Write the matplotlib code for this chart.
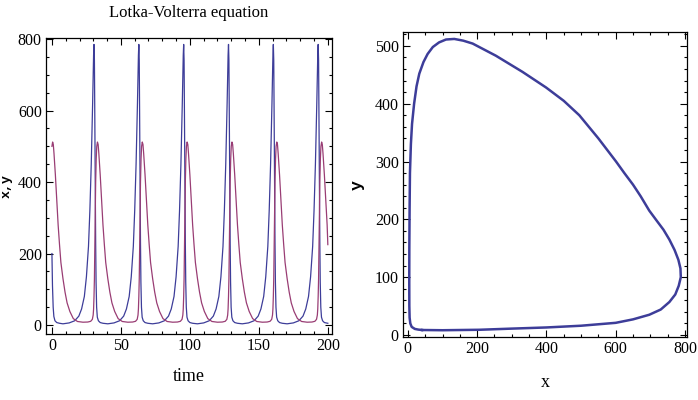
import numpy as np
import matplotlib
matplotlib.use("Agg")
import matplotlib.pyplot as plt
from matplotlib.ticker import MultipleLocator

# x(t): prey, blue curve of the left panel (one line per cycle)
t_x = [0.0, 0.4, 0.9, 1.4, 2.2, 3.5, 5.5,
       8.0, 12.5, 16.5, 19.5, 21.5, 23.5, 25.0, 26.5, 27.5, 28.5, 29.5, 30.2, 30.5, 30.8, 31.1, 31.4, 31.7, 32.0, 32.4, 32.9, 33.7, 35.0, 37.0,
       40.5, 45.0, 49.0, 52.0, 54.0, 56.0, 57.5, 59.0, 60.0, 61.0, 62.0, 62.7, 63.0, 63.3, 63.6, 63.9, 64.2, 64.5, 64.9, 65.4, 66.2, 67.5, 69.5,
       73.0, 77.5, 81.5, 84.5, 86.5, 88.5, 90.0, 91.5, 92.5, 93.5, 94.5, 95.2, 95.5, 95.8, 96.1, 96.4, 96.7, 97.0, 97.4, 97.9, 98.7, 100.0, 102.0,
       105.5, 110.0, 114.0, 117.0, 119.0, 121.0, 122.5, 124.0, 125.0, 126.0, 127.0, 127.7, 128.0, 128.3, 128.6, 128.9, 129.2, 129.5, 129.9, 130.4, 131.2, 132.5, 134.5,
       138.0, 142.5, 146.5, 149.5, 151.5, 153.5, 155.0, 156.5, 157.5, 158.5, 159.5, 160.2, 160.5, 160.8, 161.1, 161.4, 161.7, 162.0, 162.4, 162.9, 163.7, 165.0, 167.0,
       170.5, 175.0, 179.0, 182.0, 184.0, 186.0, 187.5, 189.0, 190.0, 191.0, 192.0, 192.7, 193.0, 193.3, 193.6, 193.9, 194.2, 194.5, 194.9, 195.4, 196.2, 197.5, 200.0]
x_vals = [200, 110, 50, 24, 12, 7, 5,
          3.5, 6, 12, 25, 45, 80, 135, 220, 320, 450, 620, 755, 785, 740, 560, 380, 230, 120, 50, 22, 12, 7, 5,
          3.5, 6, 12, 25, 45, 80, 135, 220, 320, 450, 620, 755, 785, 740, 560, 380, 230, 120, 50, 22, 12, 7, 5,
          3.5, 6, 12, 25, 45, 80, 135, 220, 320, 450, 620, 755, 785, 740, 560, 380, 230, 120, 50, 22, 12, 7, 5,
          3.5, 6, 12, 25, 45, 80, 135, 220, 320, 450, 620, 755, 785, 740, 560, 380, 230, 120, 50, 22, 12, 7, 5,
          3.5, 6, 12, 25, 45, 80, 135, 220, 320, 450, 620, 755, 785, 740, 560, 380, 230, 120, 50, 22, 12, 7, 5,
          3.5, 6, 12, 25, 45, 80, 135, 220, 320, 450, 620, 755, 785, 740, 560, 380, 230, 120, 50, 22, 12, 7, 5]

# y(t): predator, red curve of the left panel (one line per cycle)
t_y = [0.0, 0.5, 1.0, 1.5, 2.5, 3.5, 4.5, 5.5, 6.5,
       8.0, 9.5, 11.0, 13.0, 15.5, 18.5, 22.5, 26.0, 28.1, 29.3, 29.9, 30.2, 30.5, 30.8, 31.1, 31.4, 31.7, 32.1, 32.5, 33.0, 33.5, 34.0, 35.0, 36.0, 37.0, 38.0, 39.0,
       40.5, 42.0, 43.5, 45.5, 48.0, 51.0, 55.0, 58.5, 60.6, 61.8, 62.4, 62.7, 63.0, 63.3, 63.6, 63.9, 64.2, 64.6, 65.0, 65.5, 66.0, 66.5, 67.5, 68.5, 69.5, 70.5, 71.5,
       73.0, 74.5, 76.0, 78.0, 80.5, 83.5, 87.5, 91.0, 93.1, 94.3, 94.9, 95.2, 95.5, 95.8, 96.1, 96.4, 96.7, 97.1, 97.5, 98.0, 98.5, 99.0, 100.0, 101.0, 102.0, 103.0, 104.0,
       105.5, 107.0, 108.5, 110.5, 113.0, 116.0, 120.0, 123.5, 125.6, 126.8, 127.4, 127.7, 128.0, 128.3, 128.6, 128.9, 129.2, 129.6, 130.0, 130.5, 131.0, 131.5, 132.5, 133.5, 134.5, 135.5, 136.5,
       138.0, 139.5, 141.0, 143.0, 145.5, 148.5, 152.5, 156.0, 158.1, 159.3, 159.9, 160.2, 160.5, 160.8, 161.1, 161.4, 161.7, 162.1, 162.5, 163.0, 163.5, 164.0, 165.0, 166.0, 167.0, 168.0, 169.0,
       170.5, 172.0, 173.5, 175.5, 178.0, 181.0, 185.0, 188.5, 190.6, 191.8, 192.4, 192.7, 193.0, 193.3, 193.6, 193.9, 194.2, 194.6, 195.0, 195.5, 196.0, 196.5, 197.5, 198.5, 199.5, 200.0]
y_vals = [500, 512, 505, 480, 420, 350, 280, 225, 175,
          130, 92, 62, 38, 18, 10, 8, 8.5, 10.5, 16, 28, 45, 80, 130, 210, 310, 400, 465, 500, 512, 505, 480, 420, 350, 280, 225, 175,
          130, 92, 62, 38, 18, 10, 8, 8.5, 10.5, 16, 28, 45, 80, 130, 210, 310, 400, 465, 500, 512, 505, 480, 420, 350, 280, 225, 175,
          130, 92, 62, 38, 18, 10, 8, 8.5, 10.5, 16, 28, 45, 80, 130, 210, 310, 400, 465, 500, 512, 505, 480, 420, 350, 280, 225, 175,
          130, 92, 62, 38, 18, 10, 8, 8.5, 10.5, 16, 28, 45, 80, 130, 210, 310, 400, 465, 500, 512, 505, 480, 420, 350, 280, 225, 175,
          130, 92, 62, 38, 18, 10, 8, 8.5, 10.5, 16, 28, 45, 80, 130, 210, 310, 400, 465, 500, 512, 505, 480, 420, 350, 280, 225, 175,
          130, 92, 62, 38, 18, 10, 8, 8.5, 10.5, 16, 28, 45, 80, 130, 210, 310, 400, 465, 500, 512, 505, 480, 420, 350, 280, 225]

# phase orbit (right panel), read point by point going round the loop
phase_x = [41, 100, 206, 300, 400, 500, 600, 650, 697, 730, 755, 772, 782, 788, 787, 781, 770, 755, 738, 718,
           697, 672, 650, 625, 601, 550, 495, 450, 399, 331, 254, 187, 160, 134, 110, 90, 72, 57, 45, 33,
           25, 18, 12, 8.7, 6, 5, 4.2, 4, 4.2, 5, 7, 11, 20, 30, 41]
phase_y = [8.6, 8.2, 9, 11, 13, 16, 21, 27, 35, 44, 57, 70, 85, 100, 115, 130, 147, 165, 182, 198,
           215, 240, 260, 280, 300, 340, 380, 405, 428, 455, 483, 504, 509, 512, 511, 506, 498, 486, 472, 452,
           430, 400, 365, 330, 280, 220, 150, 90, 50, 30, 20, 14, 10.5, 9.3, 8.6]

blue = "#3d3d99"
red = "#993d74"
serif = "Liberation Serif"
mono = "Liberation Mono"

fig = plt.figure(figsize=(6.98, 4.0), dpi=100)
ax1 = fig.add_axes([0.0659, 0.165, 0.4097, 0.74])
ax2 = fig.add_axes([0.5774, 0.1575, 0.4069, 0.7625])

ax1.plot(t_x, x_vals, color=blue, lw=0.9)
ax1.plot(t_y, y_vals, color=red, lw=0.9)
ax1.set_xlim(-4.3, 203)
ax1.set_ylim(-25, 803)
ax1.xaxis.set_major_locator(MultipleLocator(50))
ax1.xaxis.set_minor_locator(MultipleLocator(10))
ax1.yaxis.set_major_locator(MultipleLocator(200))
ax1.yaxis.set_minor_locator(MultipleLocator(50))
ax1.set_title("Lotka-Volterra equation", family=serif, fontsize=12, pad=15)
ax1.set_xlabel("time", family=serif, fontsize=13, labelpad=10)
ax1.set_ylabel("x,y", family=mono, fontsize=9.5, fontweight="bold")
ax1.yaxis.set_label_coords(-0.117, 0.5)

ax2.plot(phase_x, phase_y, color=blue, lw=1.8)
ax2.set_xlim(-14, 806)
ax2.set_ylim(-3.5, 524)
ax2.xaxis.set_major_locator(MultipleLocator(200))
ax2.xaxis.set_minor_locator(MultipleLocator(50))
ax2.yaxis.set_major_locator(MultipleLocator(100))
ax2.yaxis.set_minor_locator(MultipleLocator(20))
ax2.set_xlabel("x", family=serif, fontsize=13, labelpad=12)
ax2.set_ylabel("y", family=mono, fontsize=12, fontweight="bold")
ax2.yaxis.set_label_coords(-0.135, 0.5)

for ax in (ax1, ax2):
    ax.tick_params(which="both", direction="in", top=True, right=True, width=0.8)
    ax.tick_params(which="major", length=5, labelsize=11.5, pad=3)
    ax.tick_params(which="minor", length=2.5)
    for lab in ax.get_xticklabels() + ax.get_yticklabels():
        lab.set_family(serif)
    for sp in ax.spines.values():
        sp.set_linewidth(0.9)

plt.savefig("out.png", dpi=100)
